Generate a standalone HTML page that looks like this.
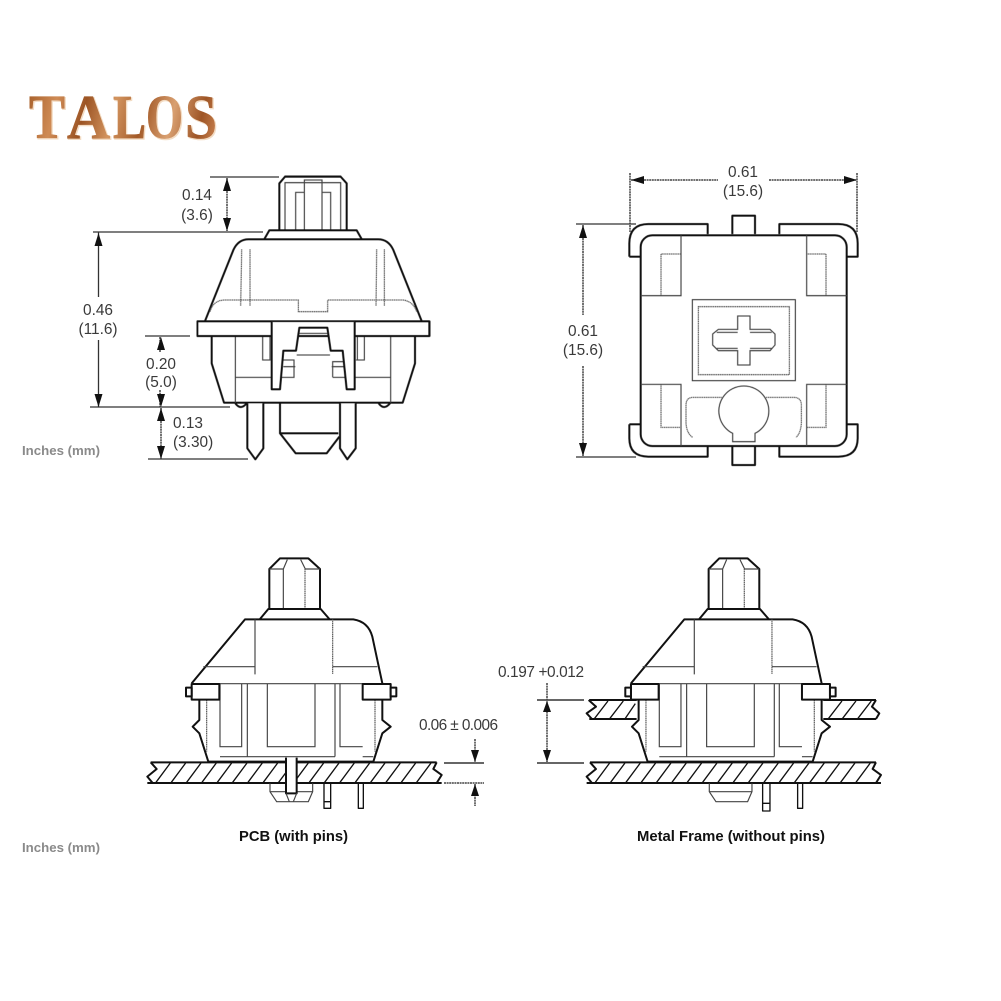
<!DOCTYPE html>
<html><head><meta charset="utf-8"><style>
html,body{margin:0;padding:0;background:#fff;width:1001px;height:1001px;overflow:hidden}
svg{display:block}
text{font-family:"Liberation Sans",sans-serif;fill:#3a3a3a;font-size:15.4px}
.m{text-anchor:middle}
.t{fill:none;stroke:#111;stroke-width:6;stroke-linejoin:round}
.f{fill:#fff;stroke:#111;stroke-width:6;stroke-linejoin:round}
.n{fill:none;stroke:#444;stroke-width:3.5}
.d{fill:none;stroke:#555;stroke-width:3.5;stroke-dasharray:4 1.5}
.e{fill:none;stroke:#333;stroke-width:1.3}
.x{fill:none;stroke:#444;stroke-width:1.5;stroke-dasharray:2 .6}
.g{font-weight:bold;font-size:13px;fill:#8a8a8a}
.b{font-weight:bold;font-size:15px;fill:#111}
.l{font-family:"Liberation Serif",serif;font-weight:bold;font-size:62px}
.c{fill:url(#cu);stroke:url(#cu);stroke-width:.8}
.h{fill:#f3dcc4;stroke:#f3dcc4;stroke-width:1.6}
.art{filter:blur(.3px)}
</style></head><body>
<svg width="1001" height="1001" viewBox="0 0 1001 1001" xmlns="http://www.w3.org/2000/svg">
<defs>
<linearGradient id="cu" gradientUnits="userSpaceOnUse" x1="28" y1="95" x2="216" y2="140">
<stop offset="0" stop-color="#a8612c"/><stop offset=".15" stop-color="#cf8b55"/><stop offset=".3" stop-color="#9c5424"/><stop offset=".45" stop-color="#d3945f"/><stop offset=".6" stop-color="#a35a28"/><stop offset=".75" stop-color="#d9a071"/><stop offset=".9" stop-color="#9e5526"/><stop offset="1" stop-color="#c98250"/>
</linearGradient>
<g id="sw">
<path class="t" d="M388,190V72L420,40H505L540,72V190"/>
<path class="n" d="M388,72H430L442,44M540,72H496L482,44M430,72V190"/>
<path class="d" d="M495,72V190"/>
<path class="t" d="M360,222L385,192H542L568,222"/>
<path class="t" d="M155,415L315,223H640Q685,230 697,275L727,415"/>
<path class="n" d="M155,416H727M345,223V388M190,365H345M578,365H712"/>
<path class="d" d="M578,223V388"/>
<path class="t" d="M178,464V525L158,545L178,565L205,650H700L727,565L752,545L727,525V464"/>
<path class="n" d="M240,417V605H305V417M322,417V635M382,417V605H525V417M585,417V635M600,417V605H668M240,635H585M668,635H700"/>
<path class="d" d="M200,464V620M705,464V620"/>
<rect class="f" x="155" y="417" width="83" height="47"/>
<rect class="f" x="668" y="417" width="84" height="47"/>
<rect class="f" x="138" y="428" width="17" height="26"/>
<rect class="f" x="752" y="428" width="17" height="26"/>
</g>
<path id="hatch" class="n" style="stroke:#111;stroke-width:4" d="M48,712l43,-58M94,712l43,-58M140,712l43,-58M186,712l43,-58M232,712l43,-58M278,712l43,-58M324,712l43,-58M370,712l43,-58M416,712l43,-58M462,712l43,-58M508,712l43,-58M554,712l43,-58M600,712l43,-58M646,712l43,-58M692,712l43,-58M738,712l43,-58M784,712l43,-58M830,712l43,-58"/>
</defs>

<!-- logo -->
<g transform="translate(1,1)">
<text class="l h" x="29" y="138" textLength="36" lengthAdjust="spacingAndGlyphs">T</text>
<text class="l h" x="67" y="138" textLength="43" lengthAdjust="spacingAndGlyphs">A</text>
<text class="l h" x="113" y="138" textLength="33" lengthAdjust="spacingAndGlyphs">L</text>
<text class="l h" x="146" y="138" textLength="37" lengthAdjust="spacingAndGlyphs">O</text>
<text class="l h" x="185" y="138" textLength="32" lengthAdjust="spacingAndGlyphs">S</text>
</g>
<text class="l c" x="29" y="138" textLength="36" lengthAdjust="spacingAndGlyphs">T</text>
<text class="l c" x="67" y="138" textLength="43" lengthAdjust="spacingAndGlyphs">A</text>
<text class="l c" x="113" y="138" textLength="33" lengthAdjust="spacingAndGlyphs">L</text>
<text class="l c" x="146" y="138" textLength="37" lengthAdjust="spacingAndGlyphs">O</text>
<text class="l c" x="185" y="138" textLength="32" lengthAdjust="spacingAndGlyphs">S</text>

<g class="art">
<!-- top-left switch -->
<g transform="translate(150,160) scale(.33333)">
<path class="t" d="M388,210V70L405,50H572L590,70V210"/>
<path class="n" d="M405,210V68H572V210M463,210V60H516V210M437,210V97H463M516,97H542V210"/>
<path class="t" d="M343,237L358,211H620L635,237"/>
<path class="t" d="M165,483L250,270Q265,238 295,238H685Q715,238 730,270L815,483"/>
<path class="d" d="M275,268L272,438M300,268V438M680,268L678,438M703,268V438M180,455Q190,420 225,420H445V455H533V420H760Q790,425 800,455"/>
<path class="t" d="M185,530V610L222,728H758L795,610V530"/>
<path class="n" d="M256,530V728M722,530V728M338,530V600H362M360,530V600M618,600H643V530M622,530V600M256,652H365M395,652H432V600H400M440,585H540M548,652V605H580M548,652H722M400,620H436M545,620H582"/>
<rect class="t" x="142" y="484" width="696" height="44"/>
<path class="f" d="M365,486V688H390L400,572H438L448,503H532L542,572H578L590,688H614V486"/>
<path class="n" d="M448,520H532"/>
<path class="t" d="M256,730Q272,752 290,730M686,730Q702,752 720,730"/>
<path class="t" d="M390,730V820L437,880H530L568,830M392,820H565"/>
<path class="f" d="M292,730V865L316,898L340,865V730"/>
<path class="f" d="M570,730V865L592,898L617,865V730"/>
</g>

<!-- top-right switch -->
<g transform="translate(560,160) scale(.33333)">
<path class="t" d="M208,290V250Q208,192 265,192H443V222M208,290H242M658,222V192H835Q893,192 893,250V290H860M208,793V835Q208,890 265,890H443V860M208,793H242M658,860V890H835Q893,890 893,835V793H860"/>
<path class="t" d="M517,222V167H585V222M517,860V915H585V860"/>
<rect class="t" x="242" y="226" width="618" height="632" rx="35"/>
<path class="n" d="M363,226V407H242M740,226V407H860M242,673H363V858M860,673H740V858"/>
<path class="d" d="M303,407V282H363M798,407V282H740M303,673V802H363M798,673V802H740"/>
<rect class="n" x="397" y="419" width="309" height="243"/>
<rect class="d" x="415" y="440" width="273" height="204"/>
<path class="n" d="M533,468H570V508H630L645,522V555L630,572H570V615H533V572H475L458,555V522L475,508H533ZM470,517H533M570,517H635M470,565H533M570,565H635"/>
<path class="n" d="M518,820A75,75 0 1 1 585,820V845H518Z"/>
<path class="d" d="M485,712H400Q378,712 378,735V790Q380,820 398,832M618,712H700Q724,712 724,735V790Q722,820 708,832"/>
</g>

<!-- bottom-left switch -->
<g transform="translate(140,545) scale(.33333)">
<use href="#sw"/>
<path class="t" d="M32,652H890M22,714H905"/>
<path class="t" d="M32,652L50,672L22,695L38,714M890,652L880,672L905,690L890,714"/>
<use href="#hatch"/>
<path class="n" d="M390,715V740L410,770H505L518,740V715M390,740H518"/>
<path class="f" d="M438,638V745H470V638"/>
<path class="n" d="M438,745L448,770M470,745L460,770"/>
<path class="t" style="stroke-width:4" d="M552,715V790H572V715M552,770H572M655,715V790H670V715"/>
</g>

<!-- bottom-right switch -->
<g transform="translate(579.3,545) scale(.33333)">
<path class="t" d="M30,465H172M30,522H172M28,465L50,485L22,505L38,522M732,465H890M732,522H890M890,465L878,485L900,505L890,522"/>
<path class="n" style="stroke:#111;stroke-width:4" d="M46,520l40,-52M92,520l40,-52M138,520l30,-44M748,520l40,-52M790,520l40,-52M836,520l40,-52"/>
<use href="#sw"/>
<path class="t" d="M32,652H890M22,714H905"/>
<path class="t" d="M32,652L50,672L22,695L38,714M890,652L880,672L905,690L890,714"/>
<use href="#hatch"/>
<path class="n" d="M390,715V740L410,770H505L518,740V715M390,740H518"/>
<path class="t" style="stroke-width:4" d="M550,715V798H572V715M550,775H572M655,715V790H670V715"/>
</g>

<!-- dimensions: top-left -->
<path class="e" d="M210,177H279M93,232H263M145,336H190M90,407H230M148,459H248"/>
<path class="x" d="M227,178V231M160,337V352M160,390V407M161,408V459"/>
<path class="e" d="M98.500,232V297M98.500,340V407"/>
<g fill="#111">
<polygon points="227,178 223,191 231,191"/><polygon points="227,231 223,218 231,218"/>
<polygon points="98.500,233 94.500,246 102.500,246"/><polygon points="98.500,407 94.500,394 102.500,394"/>
<polygon points="161,337 157,350 165,350"/><polygon points="161,407 157,394 165,394"/>
<polygon points="161,408 157,421 165,421"/><polygon points="161,459 157,446 165,446"/>
</g>

<!-- dimensions: top-right -->
<path class="x" d="M630,173V232M857,173V232M631,180H718M769,180H856M583,225V315M583,366V456"/>
<path class="e" d="M576,224H636M576,457H636"/>
<g fill="#111">
<polygon points="631,180 644,176 644,184"/><polygon points="857,180 844,176 844,184"/>
<polygon points="583,225 579,238 587,238"/><polygon points="583,456 579,443 587,443"/>
</g>

<!-- dimensions: bottom -->
<path class="e" style="stroke-width:1.6" d="M444,763H484M537,700H584M537,763H584"/>
<path class="x" d="M444,783H484M475,739V762M475,784V806M547,683V762"/>
<g fill="#111">
<polygon points="475,762 471,750 479,750"/><polygon points="475,784 471,796 479,796"/>
<polygon points="547,701 543,712 551,712"/><polygon points="547,762 543,750 551,750"/>
</g>
</g>

<text class="m" x="197" y="200">0.14</text><text class="m" x="197" y="220">(3.6)</text>
<text class="m" x="98" y="315">0.46</text><text class="m" x="98" y="334">(11.6)</text>
<text class="m" x="161" y="369">0.20</text><text class="m" x="161" y="387">(5.0)</text>
<text x="173" y="428">0.13</text><text x="173" y="447">(3.30)</text>
<text class="g" x="22" y="455" textLength="78" lengthAdjust="spacingAndGlyphs">Inches (mm)</text>
<text class="m" x="743" y="177">0.61</text><text class="m" x="743" y="196">(15.6)</text>
<text class="m" x="583" y="336">0.61</text><text class="m" x="583" y="355">(15.6)</text>
<text x="419" y="730" textLength="79">0.06 ± 0.006</text>
<text x="498" y="677" textLength="86">0.197 +0.012</text>
<text class="b" x="239" y="841" textLength="109" lengthAdjust="spacingAndGlyphs">PCB (with pins)</text>
<text class="b" x="637" y="841" textLength="188" lengthAdjust="spacingAndGlyphs">Metal Frame (without pins)</text>
<text class="g" x="22" y="852" textLength="78" lengthAdjust="spacingAndGlyphs">Inches (mm)</text>
</svg>
</body></html>
